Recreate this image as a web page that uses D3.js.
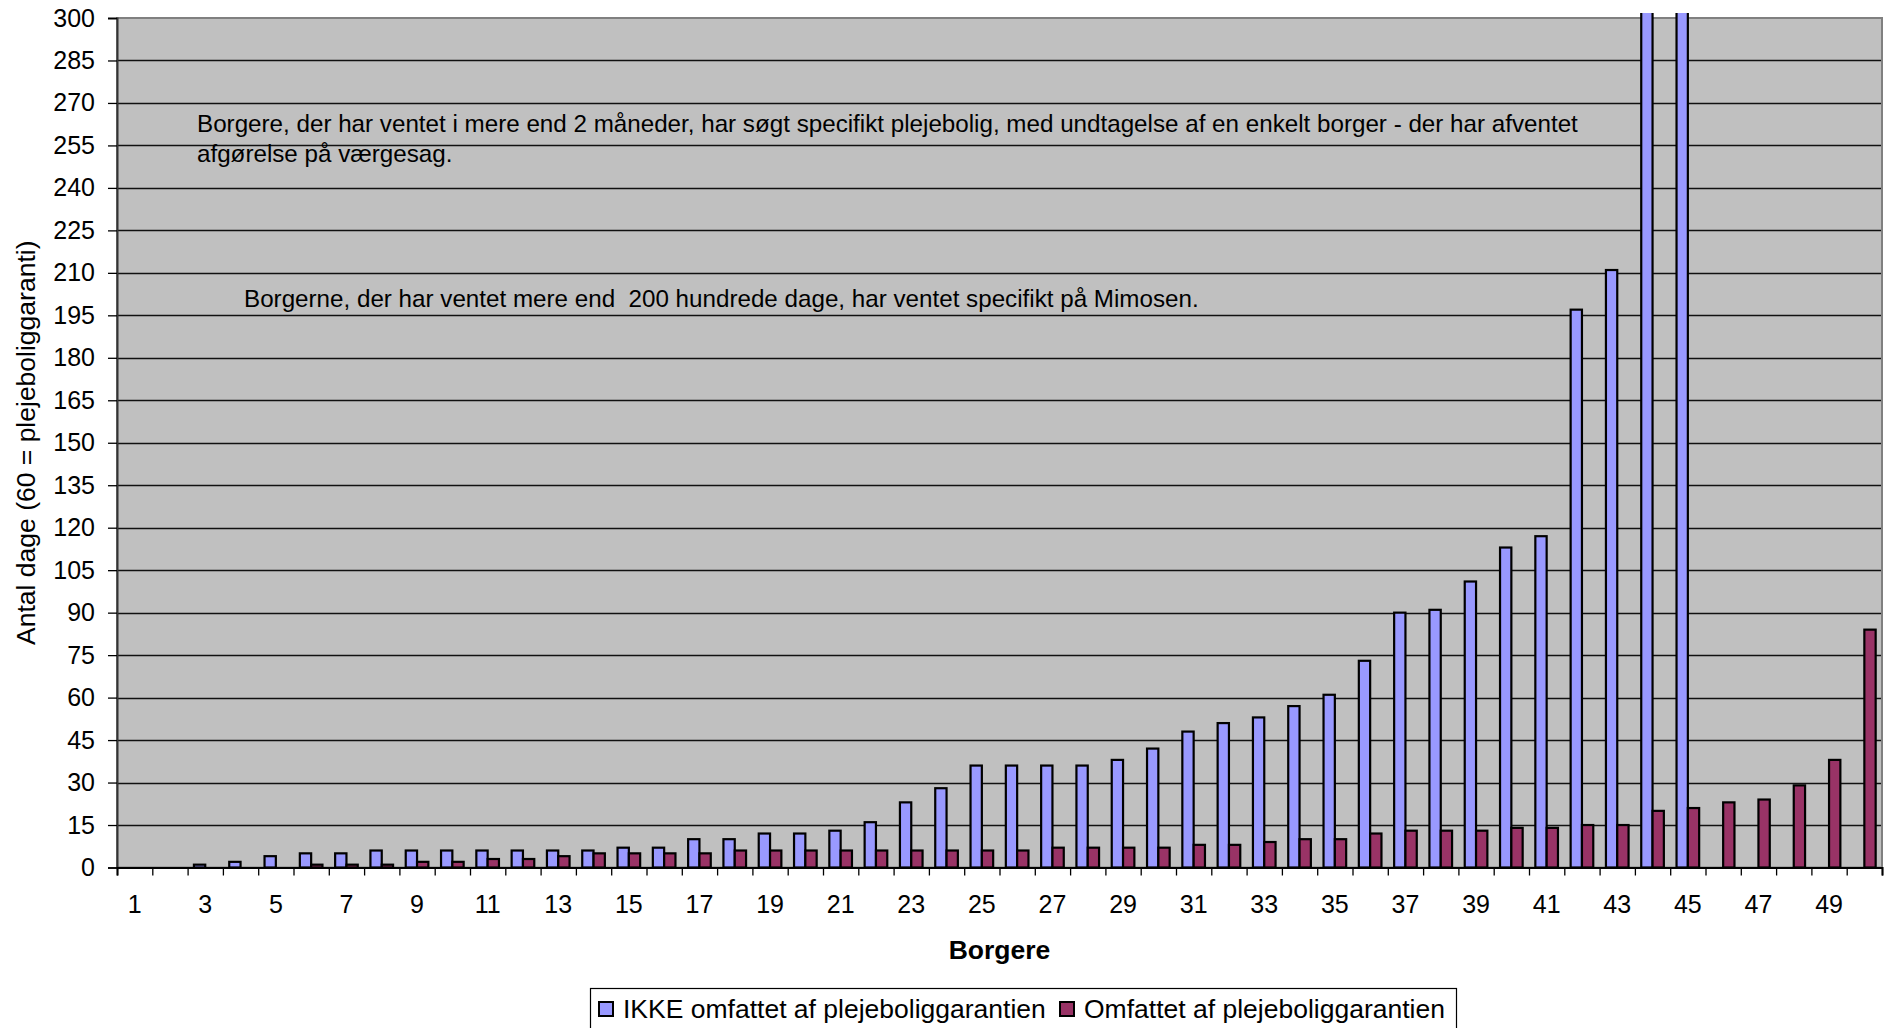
<!DOCTYPE html>
<html>
<head>
<meta charset="utf-8">
<script src="https://cdnjs.cloudflare.com/ajax/libs/d3/7.8.5/d3.min.js"></script>
<style>
    body { margin: 0; background: #fff; }
    svg text { font-family: "Liberation Sans", Arial, sans-serif; }
</style>
</head>
<body>
<svg id="chart"></svg>
<script>
    // categories (borgere 1..50)
    var borgere = [1, 2, 3, 4, 5, 6, 7, 8, 9, 10, 11, 12, 13, 14, 15, 16, 17, 18, 19, 20,
        21, 22, 23, 24, 25, 26, 27, 28, 29, 30, 31, 32, 33, 34, 35, 36, 37, 38, 39, 40,
        41, 42, 43, 44, 45, 46, 47, 48, 49, 50];

    // antal dage - IKKE omfattet af plejeboliggarantien
    var ikkeOmfattet = [0, 0, 1, 2, 4, 5, 5, 6, 6, 6, 6, 6, 6, 6, 7, 7, 10, 10, 12, 12,
        13, 16, 23, 28, 36, 36, 36, 36, 38, 42, 48, 51, 53, 57, 61, 73, 90, 91, 101, 113,
        117, 197, 211, 350, 380, 0, 0, 0, 0, 0];

    // antal dage - Omfattet af plejeboliggarantien
    var omfattet = [0, 0, 0, 0, 0, 1, 1, 1, 2, 2, 3, 3, 4, 5, 5, 5, 5, 6, 6, 6,
        6, 6, 6, 6, 6, 6, 7, 7, 7, 7, 8, 8, 9, 10, 10, 12, 13, 13, 13, 14,
        14, 15, 15, 20, 21, 23, 24, 29, 38, 84];

    var seriesNames = ["IKKE omfattet af plejeboliggarantien", "Omfattet af plejeboliggarantien"];
    var seriesColors = ["#9999FF", "#993366"];

    var yTicks = [0, 15, 30, 45, 60, 75, 90, 105, 120, 135, 150, 165, 180, 195, 210,
        225, 240, 255, 270, 285, 300];
    var xTickLabels = [1, 3, 5, 7, 9, 11, 13, 15, 17, 19, 21, 23, 25, 27, 29, 31, 33, 35,
        37, 39, 41, 43, 45, 47, 49];

    var noter = [
        "Borgere, der har ventet i mere end 2 måneder, har søgt specifikt plejebolig, med undtagelse af en enkelt borger - der har afventet",
        "afgørelse på værgesag.",
        "Borgerne, der har ventet mere end  200 hundrede dage, har ventet specifikt på Mimosen."
    ];

    drawChart();

    function drawChart() {
        var svgWidth = 1887, svgHeight = 1028;
        var margin = { top: 18, right: 5, bottom: 160.5, left: 117 };
        var width = svgWidth - margin.left - margin.right;
        var height = svgHeight - margin.top - margin.bottom;

        var svg = d3.select("#chart")
            .attr("width", svgWidth)
            .attr("height", svgHeight);

        var g = svg.append("g")
            .attr("transform", "translate(" + margin.left + "," + margin.top + ")");

        //scales
        var x = d3.scaleBand().domain(borgere).range([0, width]);
        var xSub = d3.scaleBand().domain([0, 1])
            .range([0, x.bandwidth()])
            .paddingOuter(0.56);
        var xEdge = d3.scaleLinear().domain([0, borgere.length]).range([0, width]);
        var y = d3.scaleLinear().domain([0, 300]).range([height, 0]);

        //plot area
        g.append("rect")
            .attr("width", width)
            .attr("height", height)
            .attr("fill", "#C0C0C0");

        //gridlines
        g.append("g")
            .selectAll("line")
            .data(yTicks.slice(1, -1))
            .enter().append("line")
            .attr("x1", 0)
            .attr("x2", width)
            .attr("y1", function (d) { return Math.round(y(d)) + 0.5; })
            .attr("y2", function (d) { return Math.round(y(d)) + 0.5; })
            .attr("stroke", "#111")
            .attr("stroke-width", 1.3);

        //border of plot area
        g.append("rect")
            .attr("width", width)
            .attr("height", height)
            .attr("fill", "none")
            .attr("stroke", "#808080")
            .attr("stroke-width", 2);

        //bars, clipped a bit above the plot top
        svg.append("clipPath").attr("id", "clip")
            .append("rect")
            .attr("x", -10).attr("y", -5)
            .attr("width", width + 20).attr("height", height + 5);

        var data = borgere.map(function (b, i) {
            return { b: b, vals: [ikkeOmfattet[i], omfattet[i]] };
        });

        var groups = g.append("g")
            .attr("clip-path", "url(#clip)")
            .selectAll("g")
            .data(data)
            .enter().append("g")
            .attr("transform", function (d) { return "translate(" + x(d.b) + ",0)"; });

        groups.selectAll("rect")
            .data(function (d) {
                return d.vals.map(function (v, s) { return { s: s, v: v }; })
                    .filter(function (e) { return e.v > 0; });
            })
            .enter().append("rect")
            .attr("x", function (d) { return xSub(d.s); })
            .attr("width", xSub.bandwidth())
            .attr("y", function (d) { return y(d.v); })
            .attr("height", function (d) { return height - y(d.v); })
            .attr("fill", function (d) { return seriesColors[d.s]; })
            .attr("stroke", "#000")
            .attr("stroke-width", 2.2);

        //y - axis
        var yAxis = g.append("g")
            .call(d3.axisLeft(y).tickValues(yTicks).tickSize(9).tickPadding(13));
        yAxis.select(".domain").attr("stroke", "#333").attr("stroke-width", 2);
        yAxis.selectAll(".tick line").attr("stroke", "#000").attr("stroke-width", 1.3);
        yAxis.selectAll("text")
            .attr("font-size", 25)
            .attr("fill", "#000")
            .style("font-family", "Liberation Sans, Arial, sans-serif");

        //x - axis ticks between categories
        var xTicks = g.append("g")
            .attr("transform", "translate(0," + height + ")")
            .call(d3.axisBottom(xEdge).ticks(borgere.length).tickSize(8).tickFormat(""));
        xTicks.select(".domain").attr("stroke", "#000").attr("stroke-width", 2);
        xTicks.selectAll(".tick line").attr("stroke", "#000").attr("stroke-width", 1.3);

        //x - axis labels
        var xAxis = g.append("g")
            .attr("transform", "translate(0," + height + ")")
            .call(d3.axisBottom(x).tickValues(xTickLabels).tickSize(0).tickPadding(28));
        xAxis.select(".domain").remove();
        xAxis.selectAll("text")
            .attr("font-size", 25)
            .attr("fill", "#000")
            .style("font-family", "Liberation Sans, Arial, sans-serif");

        //axis titles
        svg.append("text")
            .attr("transform", "translate(35," + (margin.top + height / 2) + ") rotate(-90)")
            .attr("text-anchor", "middle")
            .attr("font-size", 26.5)
            .text("Antal dage (60 = plejeboliggaranti)");

        svg.append("text")
            .attr("x", margin.left + width / 2)
            .attr("y", 959)
            .attr("text-anchor", "middle")
            .attr("font-size", 26.5)
            .attr("font-weight", "bold")
            .text("Borgere");

        //notes in the plot
        var notePos = [[197, 132], [197, 162], [244, 307]];
        svg.selectAll(".note")
            .data(noter)
            .enter().append("text")
            .attr("class", "note")
            .attr("x", function (d, i) { return notePos[i][0]; })
            .attr("y", function (d, i) { return notePos[i][1]; })
            .attr("font-size", 24.2)
            .style("white-space", "pre")
            .text(function (d) { return d; });

        //legend
        var legend = svg.append("g");
        legend.append("rect")
            .attr("x", 590.5).attr("y", 988.5)
            .attr("width", 866).attr("height", 60)
            .attr("fill", "#fff")
            .attr("stroke", "#000")
            .attr("stroke-width", 1.2);

        var legendX = [599, 1060];
        seriesNames.forEach(function (name, i) {
            legend.append("rect")
                .attr("x", legendX[i]).attr("y", 1002)
                .attr("width", 14).attr("height", 14)
                .attr("fill", seriesColors[i])
                .attr("stroke", "#000")
                .attr("stroke-width", 2);
            legend.append("text")
                .attr("x", legendX[i] + 24)
                .attr("y", 1018)
                .attr("font-size", 26.5)
                .text(name);
        });
    }
</script>
</body>
</html>
